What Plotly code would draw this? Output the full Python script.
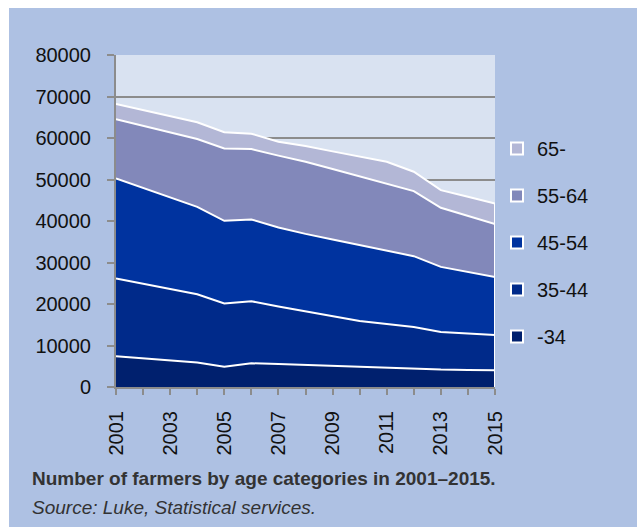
import plotly.graph_objects as go

years = list(range(2001, 2016))
age_34 = [7400, 6900, 6390, 5880, 4910, 5710, 5550, 5310, 5150, 4910, 4750, 4510, 4190, 4110, 4030]
age_35_44 = [18740, 17980, 17230, 16480, 15200, 14960, 13870, 12890, 11980, 11020, 10450, 9960, 9080, 8760, 8510]
age_45_54 = [24120, 23100, 22080, 21060, 19930, 19700, 19030, 18700, 18420, 18250, 17700, 17050, 15680, 14870, 13990]
age_55_64 = [14240, 14930, 15630, 16320, 17460, 16960, 17300, 17380, 16990, 16570, 16070, 15680, 14230, 13480, 12710]
age_65 = [3700, 3820, 3940, 4060, 3870, 3710, 3350, 3790, 4240, 4820, 5310, 4670, 4260, 4610, 4990]

series = [
    ("-34", age_34, "#00206E"),
    ("35-44", age_35_44, "#002A8A"),
    ("45-54", age_45_54, "#00339F"),
    ("55-64", age_55_64, "#8288BA"),
    ("65-", age_65, "#B3B7D6"),
]

FONT = "Liberation Sans, Arial, sans-serif"

fig = go.Figure()
for name, vals, col in series:
    fig.add_trace(go.Scatter(
        x=years, y=vals, name=name, stackgroup="one", mode="lines",
        line=dict(color="white", width=2), fillcolor=col, showlegend=False,
        hoverinfo="x+y+name"))
for name, vals, col in reversed(series):
    fig.add_trace(go.Scatter(
        x=[None], y=[None], name=name, mode="markers", legendgroup=name,
        marker=dict(symbol="square", size=12, color=col, line=dict(color="white", width=2))))

last_total = sum(vals[-1] for _, vals, _ in series)

L, R, T, B = 116, 142, 55, 140
W, H = 637, 527
pw, ph = W - L - R, H - T - B

def px(x):
    return (x - L) / pw

def py(y):
    return (H - B - y) / ph

fig.update_layout(
    width=W, height=H,
    margin=dict(l=L, r=R, t=T, b=B),
    paper_bgcolor="#AEC1E3",
    plot_bgcolor="#D9E2F1",
    font=dict(family=FONT, color="#111111", size=20),
    showlegend=True,
    legend=dict(
        x=px(497), y=py(129), xanchor="left", yanchor="top",
        traceorder="grouped", tracegroupgap=18,
        font=dict(family=FONT, size=20, color="#111111"),
        bgcolor="rgba(0,0,0,0)", itemwidth=30,
    ),
    xaxis=dict(
        range=[2001, 2015], tick0=2001, dtick=2, tickangle=-90,
        ticks="outside", ticklen=6, tickcolor="#8C8C8C", tickwidth=2,
        showline=True, linecolor="#8C8C8C", linewidth=2,
        showgrid=False, zeroline=False,
        minor=dict(dtick=1, tick0=2001, ticks="outside", ticklen=6, tickcolor="#8C8C8C", tickwidth=2, showgrid=False),
        tickfont=dict(family=FONT, size=20, color="#111111"),
        ticklabelstandoff=8,
    ),
    yaxis=dict(
        range=[0, 80000], dtick=10000, tickformat="d",
        ticks="outside", ticklen=7, tickcolor="#8C8C8C", tickwidth=2,
        showline=True, linecolor="#8C8C8C", linewidth=2,
        showgrid=True, gridcolor="#8C8C8C", gridwidth=2, zeroline=False,
        tickfont=dict(family=FONT, size=20, color="#111111"),
        ticklabelstandoff=12,
    ),
    shapes=[
        dict(type="rect", xref="paper", yref="paper", x0=px(0), x1=px(W), y0=py(0), y1=py(8),
             fillcolor="white", line=dict(width=0), layer="below"),
        dict(type="rect", xref="paper", yref="paper", x0=px(0), x1=px(9), y0=py(H), y1=py(0),
             fillcolor="white", line=dict(width=0), layer="below"),
        dict(type="line", xref="x", yref="y", x0=years[-1], x1=years[-1], y0=0, y1=last_total,
             line=dict(color="white", width=2), layer="above"),
    ],
    annotations=[
        dict(text="<b>Number of farmers by age categories in 2001–2015.</b>", xref="paper", yref="paper",
             x=px(30), y=py(479), xanchor="left", yanchor="middle", showarrow=False,
             font=dict(family=FONT, size=19, color="#333333")),
        dict(text="<i>Source: Luke, Statistical services.</i>", xref="paper", yref="paper",
             x=px(30), y=py(507), xanchor="left", yanchor="middle", showarrow=False,
             font=dict(family=FONT, size=19, color="#333333")),
    ],
)

fig.write_html("out.html")
